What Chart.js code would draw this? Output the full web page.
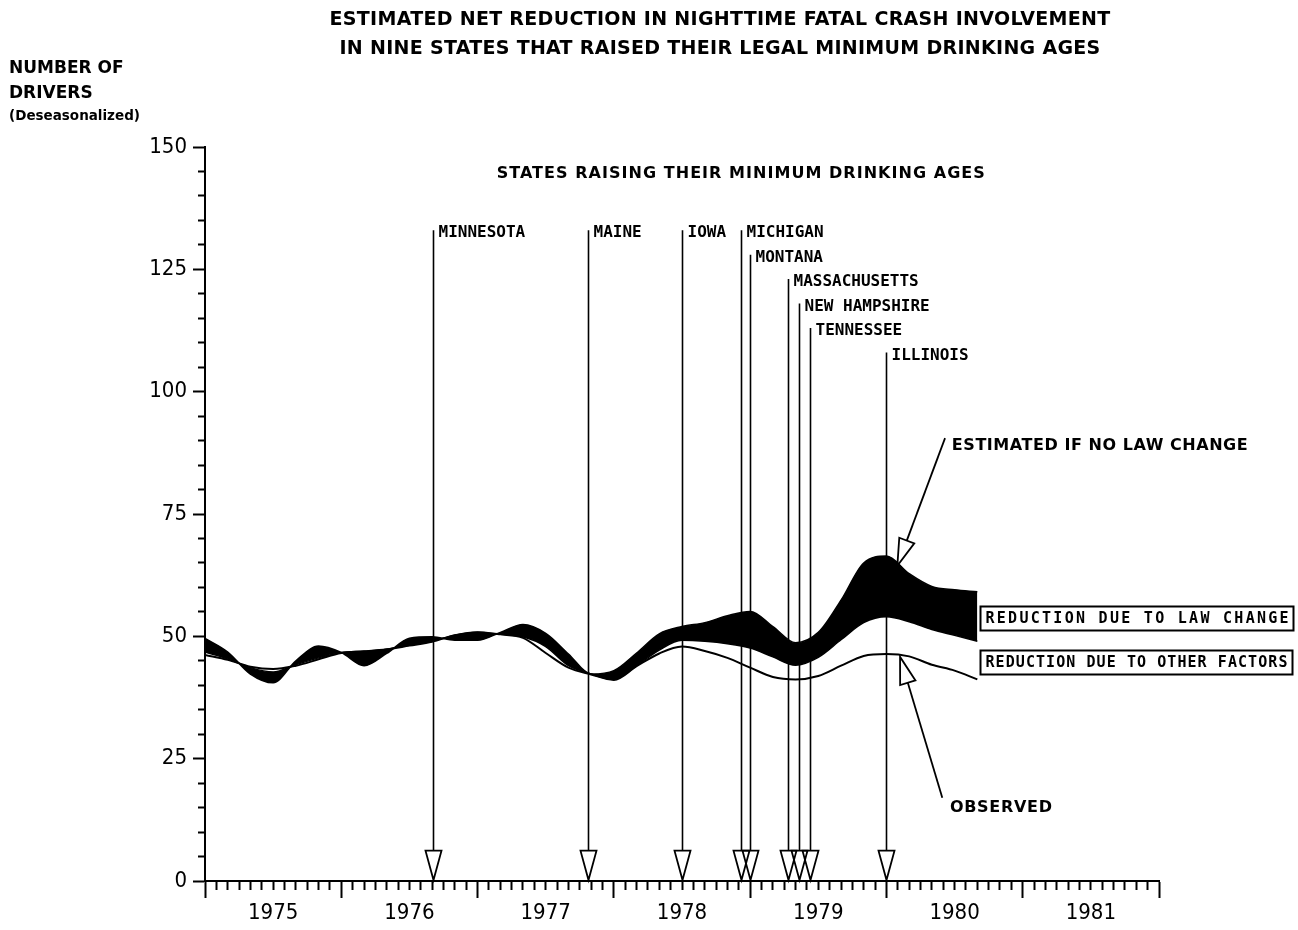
<!DOCTYPE html>
<html>
<head>
<meta charset="utf-8">
<script src="https://cdn.jsdelivr.net/npm/chart.js@4.4.1/dist/chart.umd.min.js"></script>
<style>
  html, body { margin: 0; padding: 0; background: #fff; }
  canvas { display: block; }
</style>
</head>
<body>
<canvas id="chart" width="1298" height="930"></canvas>
<script>
// Sample dates (decimal years, one sample every two months)
const sampleYears = [1975.000, 1975.167, 1975.333, 1975.500, 1975.667, 1975.833,
  1976.000, 1976.167, 1976.333, 1976.500, 1976.667, 1976.833,
  1977.000, 1977.167, 1977.333, 1977.500, 1977.667, 1977.833,
  1978.000, 1978.167, 1978.333, 1978.500, 1978.667, 1978.833,
  1979.000, 1979.167, 1979.333, 1979.500, 1979.667, 1979.833,
  1980.000, 1980.167, 1980.333, 1980.500, 1980.667];

// Estimated nighttime fatal crash involvement if no law change
const estimatedNoLawChange = [49.6, 46.8, 42.3, 40.5, 45.0, 48.0,
  46.7, 44.0, 46.5, 49.6, 49.9, 49.2,
  49.2, 50.8, 52.4, 50.6, 46.4, 42.3,
  43.0, 46.6, 50.5, 52.0, 52.8, 54.2,
  55.1, 52.0, 48.7, 50.8, 57.4, 65.0,
  66.4, 62.8, 60.2, 59.5, 59.1];

// Estimate after the reduction due to other factors
const estimatedOtherFactors = [46.8, 45.4, 43.6, 42.7, 44.2, 45.6,
  46.7, 47.0, 47.4, 48.2, 49.0, 50.3,
  50.9, 50.4, 49.9, 47.9, 44.0, 42.3,
  41.2, 44.0, 47.2, 49.2, 49.0, 48.5,
  47.6, 45.8, 44.1, 45.7, 49.3, 52.8,
  54.0, 53.0, 51.4, 50.2, 49.0];

// Observed drivers (deseasonalized)
const observedDrivers = [46.2, 45.2, 43.8, 43.3, 44.0, 45.3,
  46.6, 46.9, 47.3, 48.1, 48.9, 50.2,
  50.8, 50.4, 49.7, 46.6, 43.6, 42.2,
  41.1, 43.9, 46.5, 47.9, 47.0, 45.6,
  43.6, 41.7, 41.2, 41.9, 44.0, 46.0,
  46.4, 45.9, 44.2, 43.0, 41.2];

// States and the dates their higher drinking ages took effect
const stateNames = ['MINNESOTA', 'MAINE', 'IOWA', 'MICHIGAN', 'MONTANA',
  'MASSACHUSETTS', 'NEW HAMPSHIRE', 'TENNESSEE', 'ILLINOIS'];
const stateDates = [1976.67, 1977.81, 1978.50, 1978.93, 1979.00,
  1979.28, 1979.36, 1979.44, 1980.00];
const stateLabelLevels = [133, 133, 133, 133, 128, 123, 118, 113, 108];

// Axis tick labels
const yearLabels = ['1975', '1976', '1977', '1978', '1979', '1980', '1981'];
const yMajorLabels = ['0', '25', '50', '75', '100', '125', '150'];

// Pick a narrow face for the numeric tick labels
function fontAvailable(name) {
  const c = document.createElement('canvas').getContext('2d');
  c.font = '40px monospace';
  const a = c.measureText('1975 WMil').width;
  c.font = '40px "' + name + '", monospace';
  const b = c.measureText('1975 WMil').width;
  return Math.abs(a - b) > 0.5;
}
let tickFont = { family: '"DejaVu Sans Condensed", "DejaVu Sans", sans-serif', size: 22 };
if (fontAvailable('Liberation Sans Narrow')) {
  tickFont = { family: '"Liberation Sans Narrow", sans-serif', size: 26 };
} else if (!fontAvailable('DejaVu Sans Condensed')) {
  tickFont = { family: '"DejaVu Sans", sans-serif', size: 20 };
}

const firstYear = 1975, lastYear = 1982;
const isWhole = v => Math.abs(v - Math.round(v)) < 1e-6;

function toPoints(values) {
  return values.map((v, i) => ({ x: sampleYears[i], y: v }));
}

// Hollow arrow head + shaft
function drawArrow(ctx, x0, y0, x1, y1, headLen, halfW) {
  const dx = x1 - x0, dy = y1 - y0;
  const len = Math.hypot(dx, dy);
  const ux = dx / len, uy = dy / len;
  const bx = x1 - ux * headLen, by = y1 - uy * headLen;
  ctx.beginPath();
  ctx.moveTo(x0, y0);
  ctx.lineTo(bx, by);
  ctx.stroke();
  ctx.beginPath();
  ctx.moveTo(bx - uy * halfW, by + ux * halfW);
  ctx.lineTo(bx + uy * halfW, by - ux * halfW);
  ctx.lineTo(x1, y1);
  ctx.closePath();
  ctx.fillStyle = '#fff';
  ctx.fill();
  ctx.stroke();
  ctx.fillStyle = '#000';
}

// Text stretched by letter spacing to a given width
function spacedText(ctx, text, x, y, width) {
  ctx.letterSpacing = '0px';
  const w = ctx.measureText(text).width;
  const sp = Math.max(0, (width - w) / (text.length - 1));
  ctx.letterSpacing = sp.toFixed(2) + 'px';
  ctx.fillText(text, x, y);
  ctx.letterSpacing = '0px';
}

const annotations = {
  id: 'annotations',
  afterDatasetsDraw(chart) {
    const { ctx } = chart;
    const xs = chart.scales.x, ys = chart.scales.y;
    ctx.save();
    ctx.strokeStyle = '#000';
    ctx.fillStyle = '#000';
    ctx.lineJoin = 'miter';

    // Titles
    ctx.textAlign = 'center';
    ctx.textBaseline = 'alphabetic';
    ctx.font = 'bold 19px "DejaVu Sans", sans-serif';
    ctx.letterSpacing = '0.3px';
    ctx.fillText('ESTIMATED NET REDUCTION IN NIGHTTIME FATAL CRASH INVOLVEMENT', 720, 25);
    ctx.fillText('IN NINE STATES THAT RAISED THEIR LEGAL MINIMUM DRINKING AGES', 720, 54);
    ctx.letterSpacing = '0px';

    ctx.textAlign = 'left';
    ctx.font = 'bold 17px "DejaVu Sans", sans-serif';
    ctx.fillText('NUMBER OF', 9, 73);
    ctx.fillText('DRIVERS', 9, 98);
    ctx.font = 'bold 13.5px "DejaVu Sans", sans-serif';
    ctx.fillText('(Deseasonalized)', 9, 120);

    ctx.font = 'bold 16px "DejaVu Sans", sans-serif';
    spacedText(ctx, 'STATES RAISING THEIR MINIMUM DRINKING AGES',
      xs.getPixelForValue(1977.14), ys.getPixelForValue(144.9) + 6, 488);

    // State markers
    const tipY = ys.getPixelForValue(0) - 1;
    const baseY = ys.getPixelForValue(6.2);
    ctx.textBaseline = 'middle';
    ctx.font = 'bold 16px "DejaVu Sans Mono", monospace';
    stateNames.forEach((name, i) => {
      const px = Math.round(xs.getPixelForValue(stateDates[i])) + 0.5;
      const top = ys.getPixelForValue(stateLabelLevels[i]);
      ctx.lineWidth = 1.6;
      ctx.beginPath();
      ctx.moveTo(px, top);
      ctx.lineTo(px, baseY);
      ctx.stroke();
      ctx.lineWidth = 1.8;
      ctx.beginPath();
      ctx.moveTo(px - 8, baseY);
      ctx.lineTo(px + 8, baseY);
      ctx.lineTo(px, tipY);
      ctx.closePath();
      ctx.stroke();
      ctx.fillText(name, px + 5, top + 3);
    });

    // Callout: estimated if no law change
    ctx.lineWidth = 1.8;
    drawArrow(ctx,
      xs.getPixelForValue(1980.43), ys.getPixelForValue(90.5),
      xs.getPixelForValue(1980.08), ys.getPixelForValue(64.4), 27, 8);
    ctx.font = 'bold 16px "DejaVu Sans", sans-serif';
    ctx.textBaseline = 'alphabetic';
    spacedText(ctx, 'ESTIMATED IF NO LAW CHANGE',
      xs.getPixelForValue(1980.48), ys.getPixelForValue(90.5) + 12, 296);

    // Callout: observed
    drawArrow(ctx,
      xs.getPixelForValue(1980.41), ys.getPixelForValue(17.0),
      xs.getPixelForValue(1980.10), ys.getPixelForValue(45.8), 27, 8);
    spacedText(ctx, 'OBSERVED', xs.getPixelForValue(1980.466), ys.getPixelForValue(15.3) + 6, 102);

    // Boxed legend labels
    const boxLeft = Math.round(xs.getPixelForValue(1980.69)) + 0.5;
    const boxes = [
      { text: 'REDUCTION DUE TO LAW CHANGE', level: 53.7, width: 313 },
      { text: 'REDUCTION DUE TO OTHER FACTORS', level: 44.8, width: 312 }
    ];
    ctx.font = 'bold 15px "DejaVu Sans Mono", monospace';
    ctx.textBaseline = 'middle';
    boxes.forEach(b => {
      const cy = ys.getPixelForValue(b.level);
      ctx.lineWidth = 2;
      ctx.strokeRect(boxLeft, Math.round(cy - 12) + 0.5, b.width, 24);
      spacedText(ctx, b.text, boxLeft + 5, cy + 1, b.width - 10);
    });

    ctx.restore();
  }
};

new Chart(document.getElementById('chart'), {
  type: 'line',
  data: {
    datasets: [
      {
        label: 'Estimated if no law change',
        data: toPoints(estimatedNoLawChange),
        borderColor: '#000',
        backgroundColor: '#000',
        borderWidth: 1.5,
        pointRadius: 0,
        cubicInterpolationMode: 'monotone',
        fill: '+1'
      },
      {
        label: 'Reduction due to other factors',
        data: toPoints(estimatedOtherFactors),
        borderColor: '#000',
        borderWidth: 1.5,
        pointRadius: 0,
        cubicInterpolationMode: 'monotone',
        fill: false
      },
      {
        label: 'Observed',
        data: toPoints(observedDrivers),
        borderColor: '#000',
        borderWidth: 2,
        pointRadius: 0,
        cubicInterpolationMode: 'monotone',
        fill: false
      }
    ]
  },
  options: {
    responsive: false,
    animation: false,
    events: [],
    layout: { padding: { top: 147, right: 139, left: 0, bottom: 0 } },
    plugins: {
      legend: { display: false },
      tooltip: { enabled: false },
      title: { display: false }
    },
    scales: {
      x: {
        type: 'linear',
        position: 'bottom',
        min: firstYear,
        max: lastYear,
        afterBuildTicks(scale) {
          const ticks = [];
          for (let yr = firstYear; yr < lastYear; yr++) {
            for (let m = 0; m < 12; m++) ticks.push({ value: yr + m / 12 });
          }
          ticks.push({ value: lastYear });
          scale.ticks = ticks;
        },
        afterFit(scale) { scale.height = 49; },
        border: { display: true, color: '#000', width: 2 },
        grid: {
          drawOnChartArea: false,
          drawTicks: true,
          tickLength: 17,
          tickWidth: 2,
          tickColor: '#000',
          tickBorderDash: c => (c.tick && isWhole(c.tick.value)) ? [] : [8, 40]
        },
        ticks: {
          autoSkip: false,
          maxRotation: 0,
          minRotation: 0,
          padding: 2,
          color: '#000',
          font: tickFont,
          callback(value) {
            const idx = Math.round((value - firstYear) * 12);
            if (idx % 12 === 6) return yearLabels[Math.floor(idx / 12)];
            return '';
          }
        }
      },
      y: {
        type: 'linear',
        min: 0,
        max: 150,
        afterBuildTicks(scale) {
          const ticks = [];
          for (let v = 0; v <= 150; v += 5) ticks.push({ value: v });
          scale.ticks = ticks;
        },
        afterFit(scale) { scale.width = 205; },
        border: { display: true, color: '#000', width: 2 },
        grid: {
          drawOnChartArea: false,
          drawTicks: true,
          tickLength: 12,
          tickWidth: 2,
          tickColor: '#000',
          tickBorderDash: c => (c.tick && c.tick.value % 25 === 0) ? [] : [0, 5, 7, 40]
        },
        ticks: {
          autoSkip: false,
          padding: 6,
          color: '#000',
          font: tickFont,
          callback(value) {
            return value % 25 === 0 ? yMajorLabels[value / 25] : '';
          }
        }
      }
    }
  },
  plugins: [annotations]
});
</script>
</body>
</html>
